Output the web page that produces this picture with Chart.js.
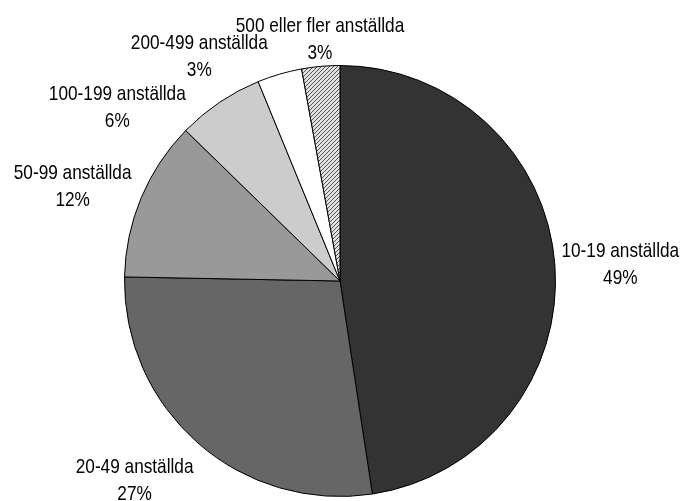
<!DOCTYPE html>
<html>
<head>
<meta charset="utf-8">
<script src="https://cdn.jsdelivr.net/npm/chart.js@4/dist/chart.umd.min.js"></script>
<style>
	html, body { margin: 0; padding: 0; background: #fff; }
	#wrap { width: 685px; height: 501px; }
</style>
</head>
<body>
<div id="wrap"><canvas id="pieChart" width="685" height="501"></canvas></div>
<script>
// categories and values
const categories = ['10-19 anställda', '20-49 anställda', '50-99 anställda', '100-199 anställda', '200-499 anställda', '500 eller fler anställda'];
const shares = [47.6, 27.7, 12.0, 6.5, 3.35, 2.85];
const shareLabels = ['49%', '27%', '12%', '6%', '3%', '3%'];

// "best fit" label placement: shift from the slice's mid angle (deg) and distance in radii
const labelShift = [0.9, 4.6, -3.2, -18, -15.8, 0.4];
const labelDist = [1.303, 1.329, 1.316, 1.311, 1.229, 1.126];

function hatch() {
	let c = document.createElement('canvas');
	c.width = 4; c.height = 4;
	let g = c.getContext('2d');
	g.fillStyle = '#e0e0e0';
	g.fillRect(0, 0, 4, 4);
	g.strokeStyle = '#555';
	g.lineWidth = 1;
	g.beginPath();
	g.moveTo(0, 4); g.lineTo(4, 0);
	g.moveTo(-1, 1); g.lineTo(1, -1);
	g.moveTo(3, 5); g.lineTo(5, 3);
	g.stroke();
	return g.createPattern(c, 'repeat');
}

const ctx = document.getElementById('pieChart').getContext('2d');
const fills = ['#333333', '#666666', '#999999', '#cccccc', '#ffffff', hatch()];
const font = '21px "Liberation Sans Narrow", "Liberation Sans", Arial, sans-serif';

function narrowText(c, text, x, y) {
	c.save();
	c.translate(x, y);
	c.scale(0.82, 1);
	c.fillText(text, 0, 0);
	c.restore();
}

const outsideLabels = {
	id: 'outsideLabels',
	afterDraw(chart) {
		let c = chart.ctx;
		let arcs = chart.getDatasetMeta(0).data;
		c.save();
		c.font = font;
		c.fillStyle = '#000';
		c.textAlign = 'center';
		c.textBaseline = 'middle';
		arcs.forEach(function(arc, i) {
			let mid = (arc.startAngle + arc.endAngle) / 2 + labelShift[i] * Math.PI / 180;
			let d = arc.outerRadius * labelDist[i];
			let cx = arc.x + Math.cos(mid) * d;
			let cy = arc.y + Math.sin(mid) * d;
			narrowText(c, categories[i], cx, cy - 13);
			narrowText(c, shareLabels[i], cx, cy + 14);
		});
		c.restore();
	}
};

new Chart(ctx, {
	type: 'pie',
	data: {
		labels: categories,
		datasets: [{
			data: shares,
			backgroundColor: fills,
			borderColor: '#000',
			borderWidth: 1,
		}],
	},
	options: {
		responsive: false,
		animation: false,
		layout: { padding: { top: 65, bottom: 4, left: 124, right: 129 } },
		plugins: {
			legend: { display: false },
			tooltip: { enabled: false },
		},
	},
	plugins: [outsideLabels],
});
</script>
</body>
</html>
